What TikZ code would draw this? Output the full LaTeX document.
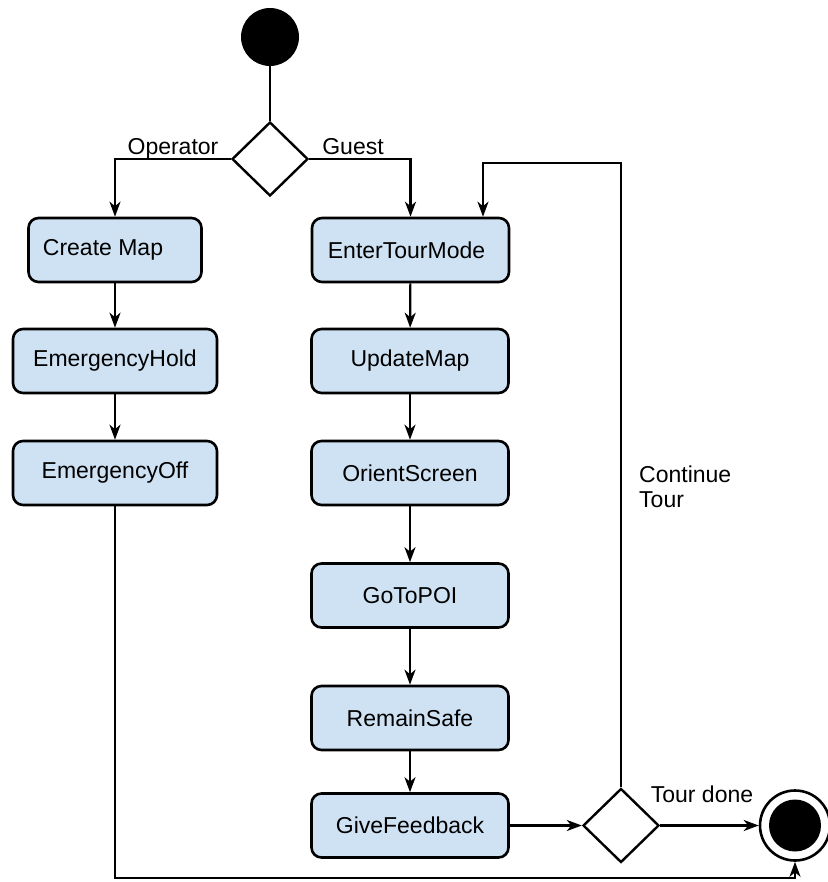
\documentclass[tikz,border=0pt]{standalone}
\usepackage{fontspec}
\setmainfont{Liberation Sans}
\usetikzlibrary{shapes.geometric,arrows.meta,calc}
\definecolor{boxblue}{HTML}{CFE2F3}
\begin{document}
\begin{tikzpicture}[x=1pt,y=-1pt,
  font=\fontsize{23}{25}\selectfont,
  actbox/.style={draw=black,line width=2.6pt,fill=boxblue,rounded corners=10pt,minimum height=64pt,inner sep=0pt},
  choice/.style={draw=black,line width=2.4pt,fill=white,diamond,minimum width=76pt,minimum height=74pt,inner sep=0pt},
  flow/.style={line width=2.2pt,-{Stealth[length=15pt,width=11pt,inset=4.5pt]}},
  plain/.style={line width=2.2pt},
  lbl/.style={anchor=base,inner sep=0pt}]
\useasboundingbox (0,0) rectangle (827,882);

\node[circle,fill=black,minimum size=58pt,inner sep=0pt] (start) at (270,37) {};
\node[choice] (d1) at (270,159) {};

\node[actbox,minimum width=173pt] (create) at (115,250) {Create Map\hspace{24pt}\mbox{}};
\node[actbox,minimum width=204pt] (hold) at (115,361) {EmergencyHold};
\node[actbox,minimum width=204pt] (off) at (115,473) {EmergencyOff};

\node[actbox,minimum width=197pt] (enter) at (410.5,250) {EnterTourMode\hspace{8pt}\mbox{}};
\node[actbox,minimum width=197pt] (update) at (410,361) {UpdateMap};
\node[actbox,minimum width=197pt] (orient) at (410,473) {OrientScreen};
\node[actbox,minimum width=197pt] (goto) at (410,595.5) {GoToPOI};
\node[actbox,minimum width=197pt] (remain) at (410,718) {RemainSafe};
\node[actbox,minimum width=197pt] (give) at (410,825.5) {GiveFeedback};

\node[choice] (d2) at (621,825.5) {};
\node[circle,draw=black,line width=2.6pt,fill=white,minimum size=70pt,inner sep=0pt] (final) at (795,825.5) {};
\node[circle,fill=black,minimum size=52pt,inner sep=0pt] (finaldot) at (final.center) {};

\coordinate (looptop) at (621,163);
\coordinate (loopin) at (483,163);
\coordinate (botleft) at (115,878);
\coordinate (botright) at (795,878);

\draw[plain] (start) -- (d1.north);
\draw[flow] (d1.west) -| (create.north);
\draw[flow] (d1.east) -| (enter.north);
\draw[flow] (create) -- (hold);
\draw[flow] (hold) -- (off);
\draw[flow] (enter) -- (update);
\draw[flow] (update) -- (orient);
\draw[flow] (orient) -- (goto);
\draw[flow] (goto) -- (remain);
\draw[flow] (remain) -- (give);
\draw[flow] (give.east) -- (d2.west);
\draw[flow] (d2.east) -- (final.west);
\draw[flow] (d2.north) -- (looptop) -- (loopin) -- (loopin |- enter.north);
\draw[flow] (off.south) -- (botleft) -- (botright) -- (final.south);

\node[lbl] (lop) at (173,155) {Operator};
\node[lbl] (lguest) at (353,155) {Guest};
\node[lbl] (ldone) at (702,802) {Tour done};
\node[anchor=base west,inner sep=0pt,align=left] (lcont) at (639,507) {Continue\\Tour};
\end{tikzpicture}
\end{document}
